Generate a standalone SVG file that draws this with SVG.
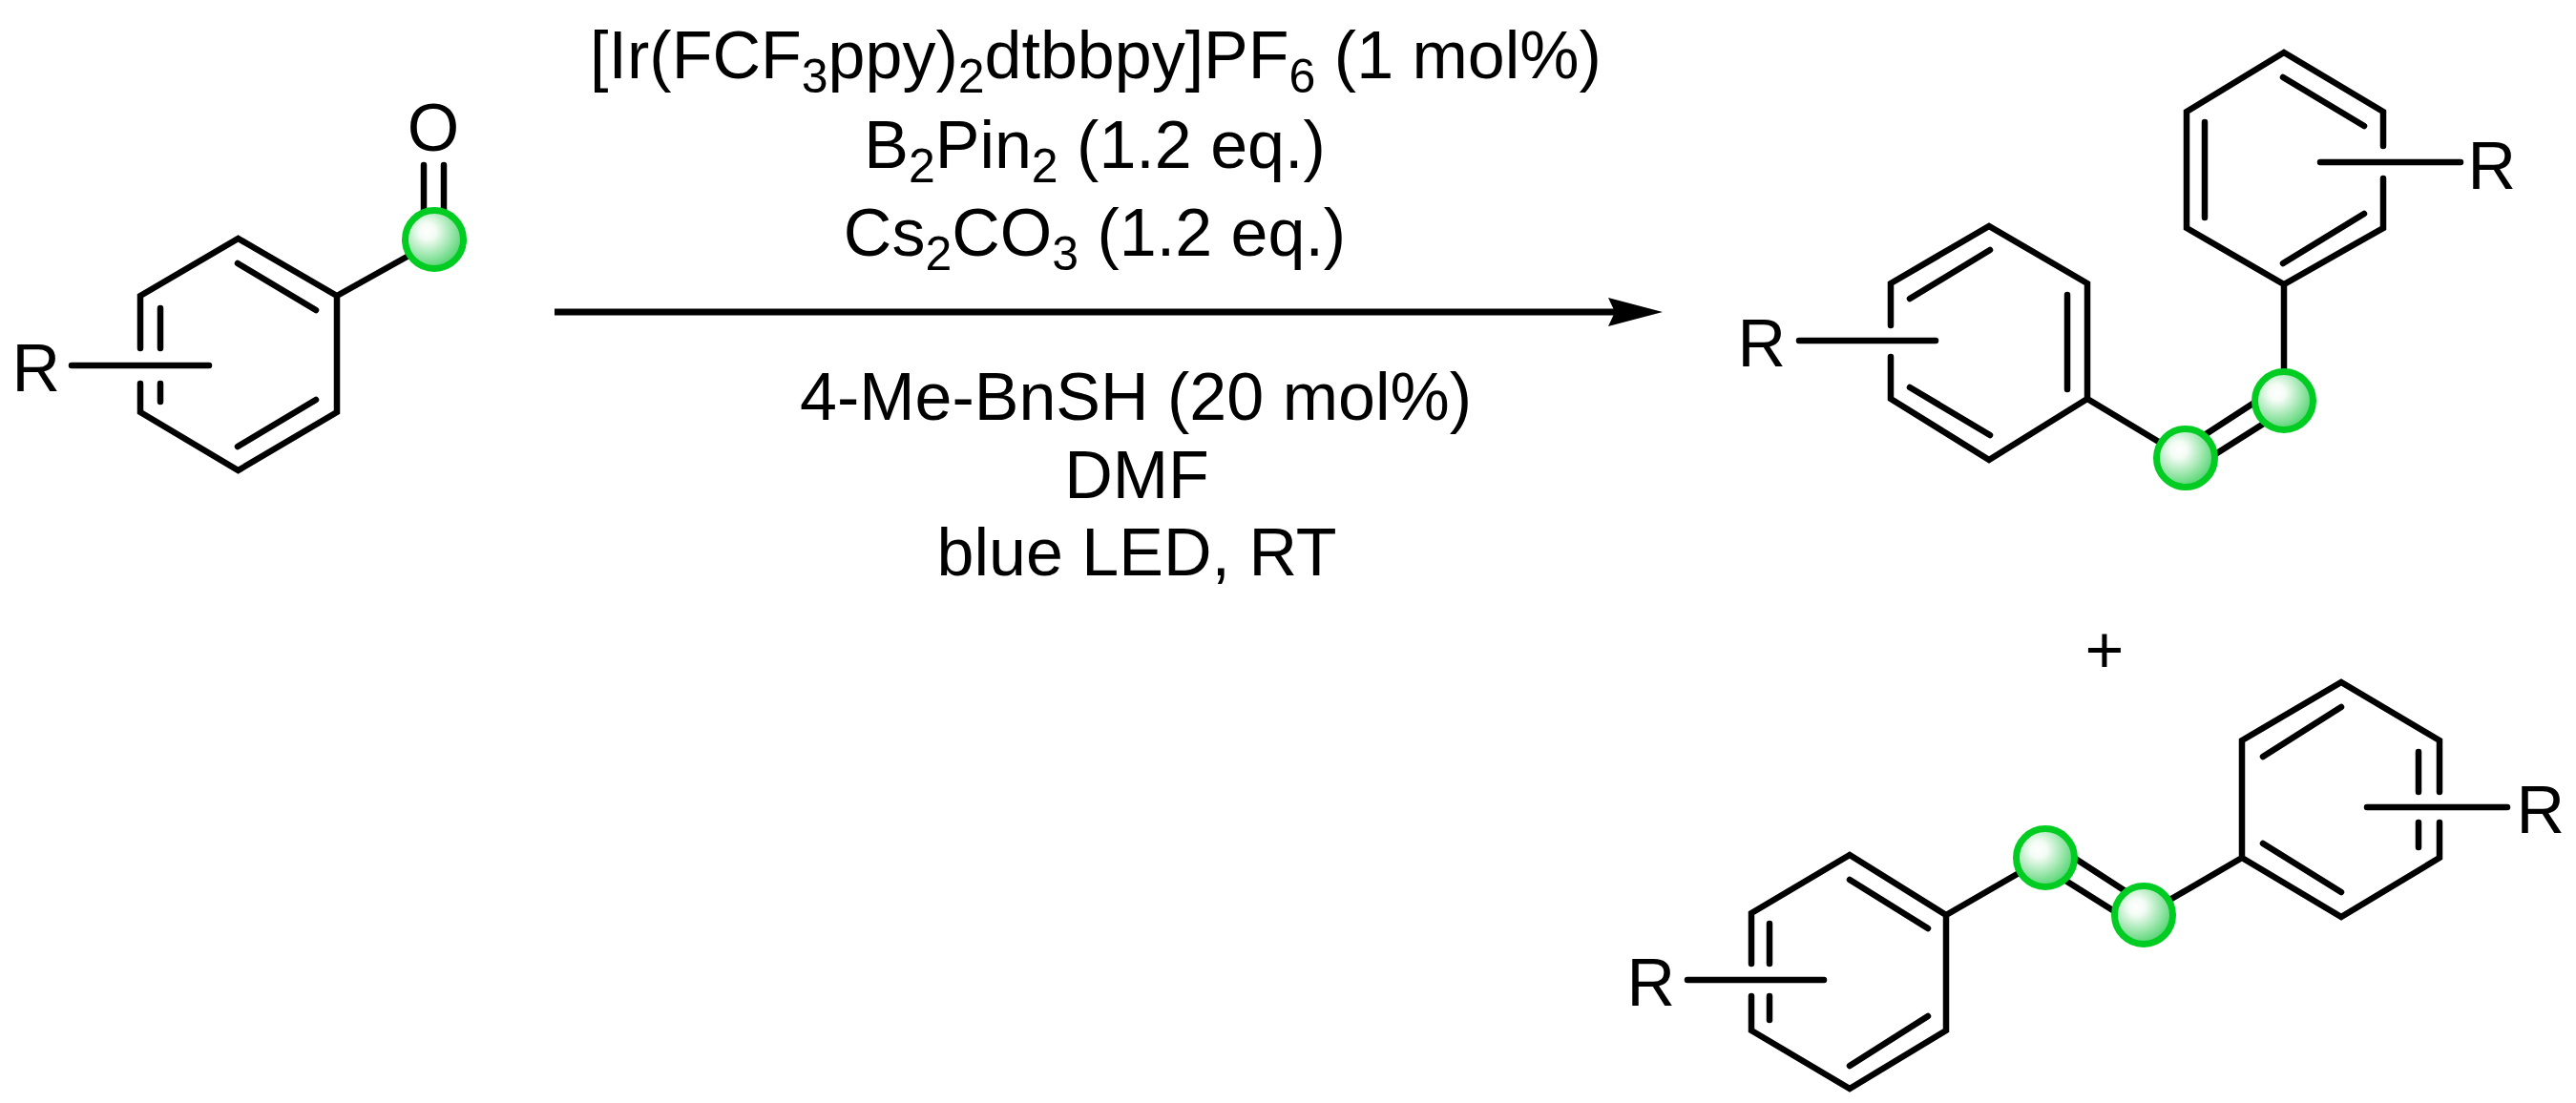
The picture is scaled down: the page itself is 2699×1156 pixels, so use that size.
<svg xmlns="http://www.w3.org/2000/svg" width="2699" height="1156" viewBox="0 0 2699 1156">
<style>
text{font-family:"Liberation Sans",Arial,sans-serif;font-size:70px;fill:#000}
.b{fill:none;stroke:#000;stroke-width:6.5;stroke-linecap:round;stroke-linejoin:miter}
.s{font-size:50px}
.ball{fill:url(#g);stroke:#00cc22;stroke-width:7}
.c{text-anchor:middle}
</style>
<defs>
<radialGradient id="g" cx="0.38" cy="0.36" r="0.72"><stop offset="0" stop-color="#fff"/><stop offset="0.2" stop-color="#f4fcf5"/><stop offset="1" stop-color="#3ccf5e"/></radialGradient>
<marker id="ah" markerUnits="userSpaceOnUse" markerWidth="60" markerHeight="34" refX="10" refY="17" orient="auto"><path d="M0 2L57 17L0 32L7 17Z" fill="#000"/></marker>
</defs>
<g id="reactant">
<path class="b" d="M147 365V310L249.500 250L353 310V432L249.500 493L147 432V402M168 323V365M168 402V421M249 276L331 325M249 468L331 419M353 310L430 267M444 173V225M465 173V225M75 383H219"/>
<circle class="ball" cx="455" cy="251" r="30.500"/>
<text x="12.500" y="410">R</text>
<text class="c" x="454" y="158">O</text>
</g>
<g id="conditions">
<text class="c" x="1148" y="82">[Ir(FCF<tspan class="s" dy="15">3</tspan><tspan dy="-15">ppy)</tspan><tspan class="s" dy="15">2</tspan><tspan dy="-15">dtbbpy]PF</tspan><tspan class="s" dy="15">6</tspan><tspan dy="-15"> (1 mol%)</tspan></text>
<text class="c" x="1147" y="176">B<tspan class="s" dy="15">2</tspan><tspan dy="-15">Pin</tspan><tspan class="s" dy="15">2</tspan><tspan dy="-15"> (1.2 eq.)</tspan></text>
<text class="c" x="1147" y="268">Cs<tspan class="s" dy="15">2</tspan><tspan dy="-15">CO</tspan><tspan class="s" dy="15">3</tspan><tspan dy="-15"> (1.2 eq.)</tspan></text>
<text class="c" x="1190" y="440">4-Me-BnSH (20 mol%)</text>
<text class="c" x="1191" y="522">DMF</text>
<text class="c" x="1191" y="603">blue LED, RT</text>
</g>
<g id="connectors">
<line x1="581" y1="327" x2="1695" y2="327" stroke="#000" stroke-width="7" marker-end="url(#ah)"/>
</g>
<g id="product-z">
<path class="b" d="M2497 153V117L2393 55L2291 117V239L2393 298L2497 239V187M2392 81L2477 132M2310 128V228M2477 224L2392 276M2393 298V420"/>
<path class="b" d="M1981 341V297L2084 237L2187 297V418L2084 482L1981 418V374M2085 262L2001 313M2166 309V408M2001 406L2085 456M2187 418L2290 480M2305 459L2365 420M2318 478L2378 440"/>
<path class="b" d="M2431 170H2578M1885 357H2028"/>
<circle class="ball" cx="2393" cy="420" r="30.500"/>
<circle class="ball" cx="2290" cy="480" r="30.500"/>
<text x="2585.500" y="198">R</text>
<text x="1820.500" y="384">R</text>
</g>
<text id="plus" class="c" x="2205" y="705">+</text>
<g id="product-e">
<path class="b" d="M2556 830V776L2453 715L2349 776V899L2453 961L2556 899V862M2453 741L2371 793M2371 884L2453 935M2534 788V830M2534 862V888M2349 899L2246 959"/>
<path class="b" d="M1835 1010V957L1938 896L2039 959V1080L1938 1141L1835 1080V1044M1938 922L2020 973M2020 1065L1938 1117M1854 968V1010M1854 1044V1069M2039 959L2143 899M2170 897L2230 936M2158 919L2220 958"/>
<path class="b" d="M2480 846H2627M1768 1027H1911"/>
<circle class="ball" cx="2143" cy="899" r="30.500"/>
<circle class="ball" cx="2246" cy="959" r="30.500"/>
<text x="2636.500" y="873">R</text>
<text x="1704.500" y="1054">R</text>
</g>
</svg>
